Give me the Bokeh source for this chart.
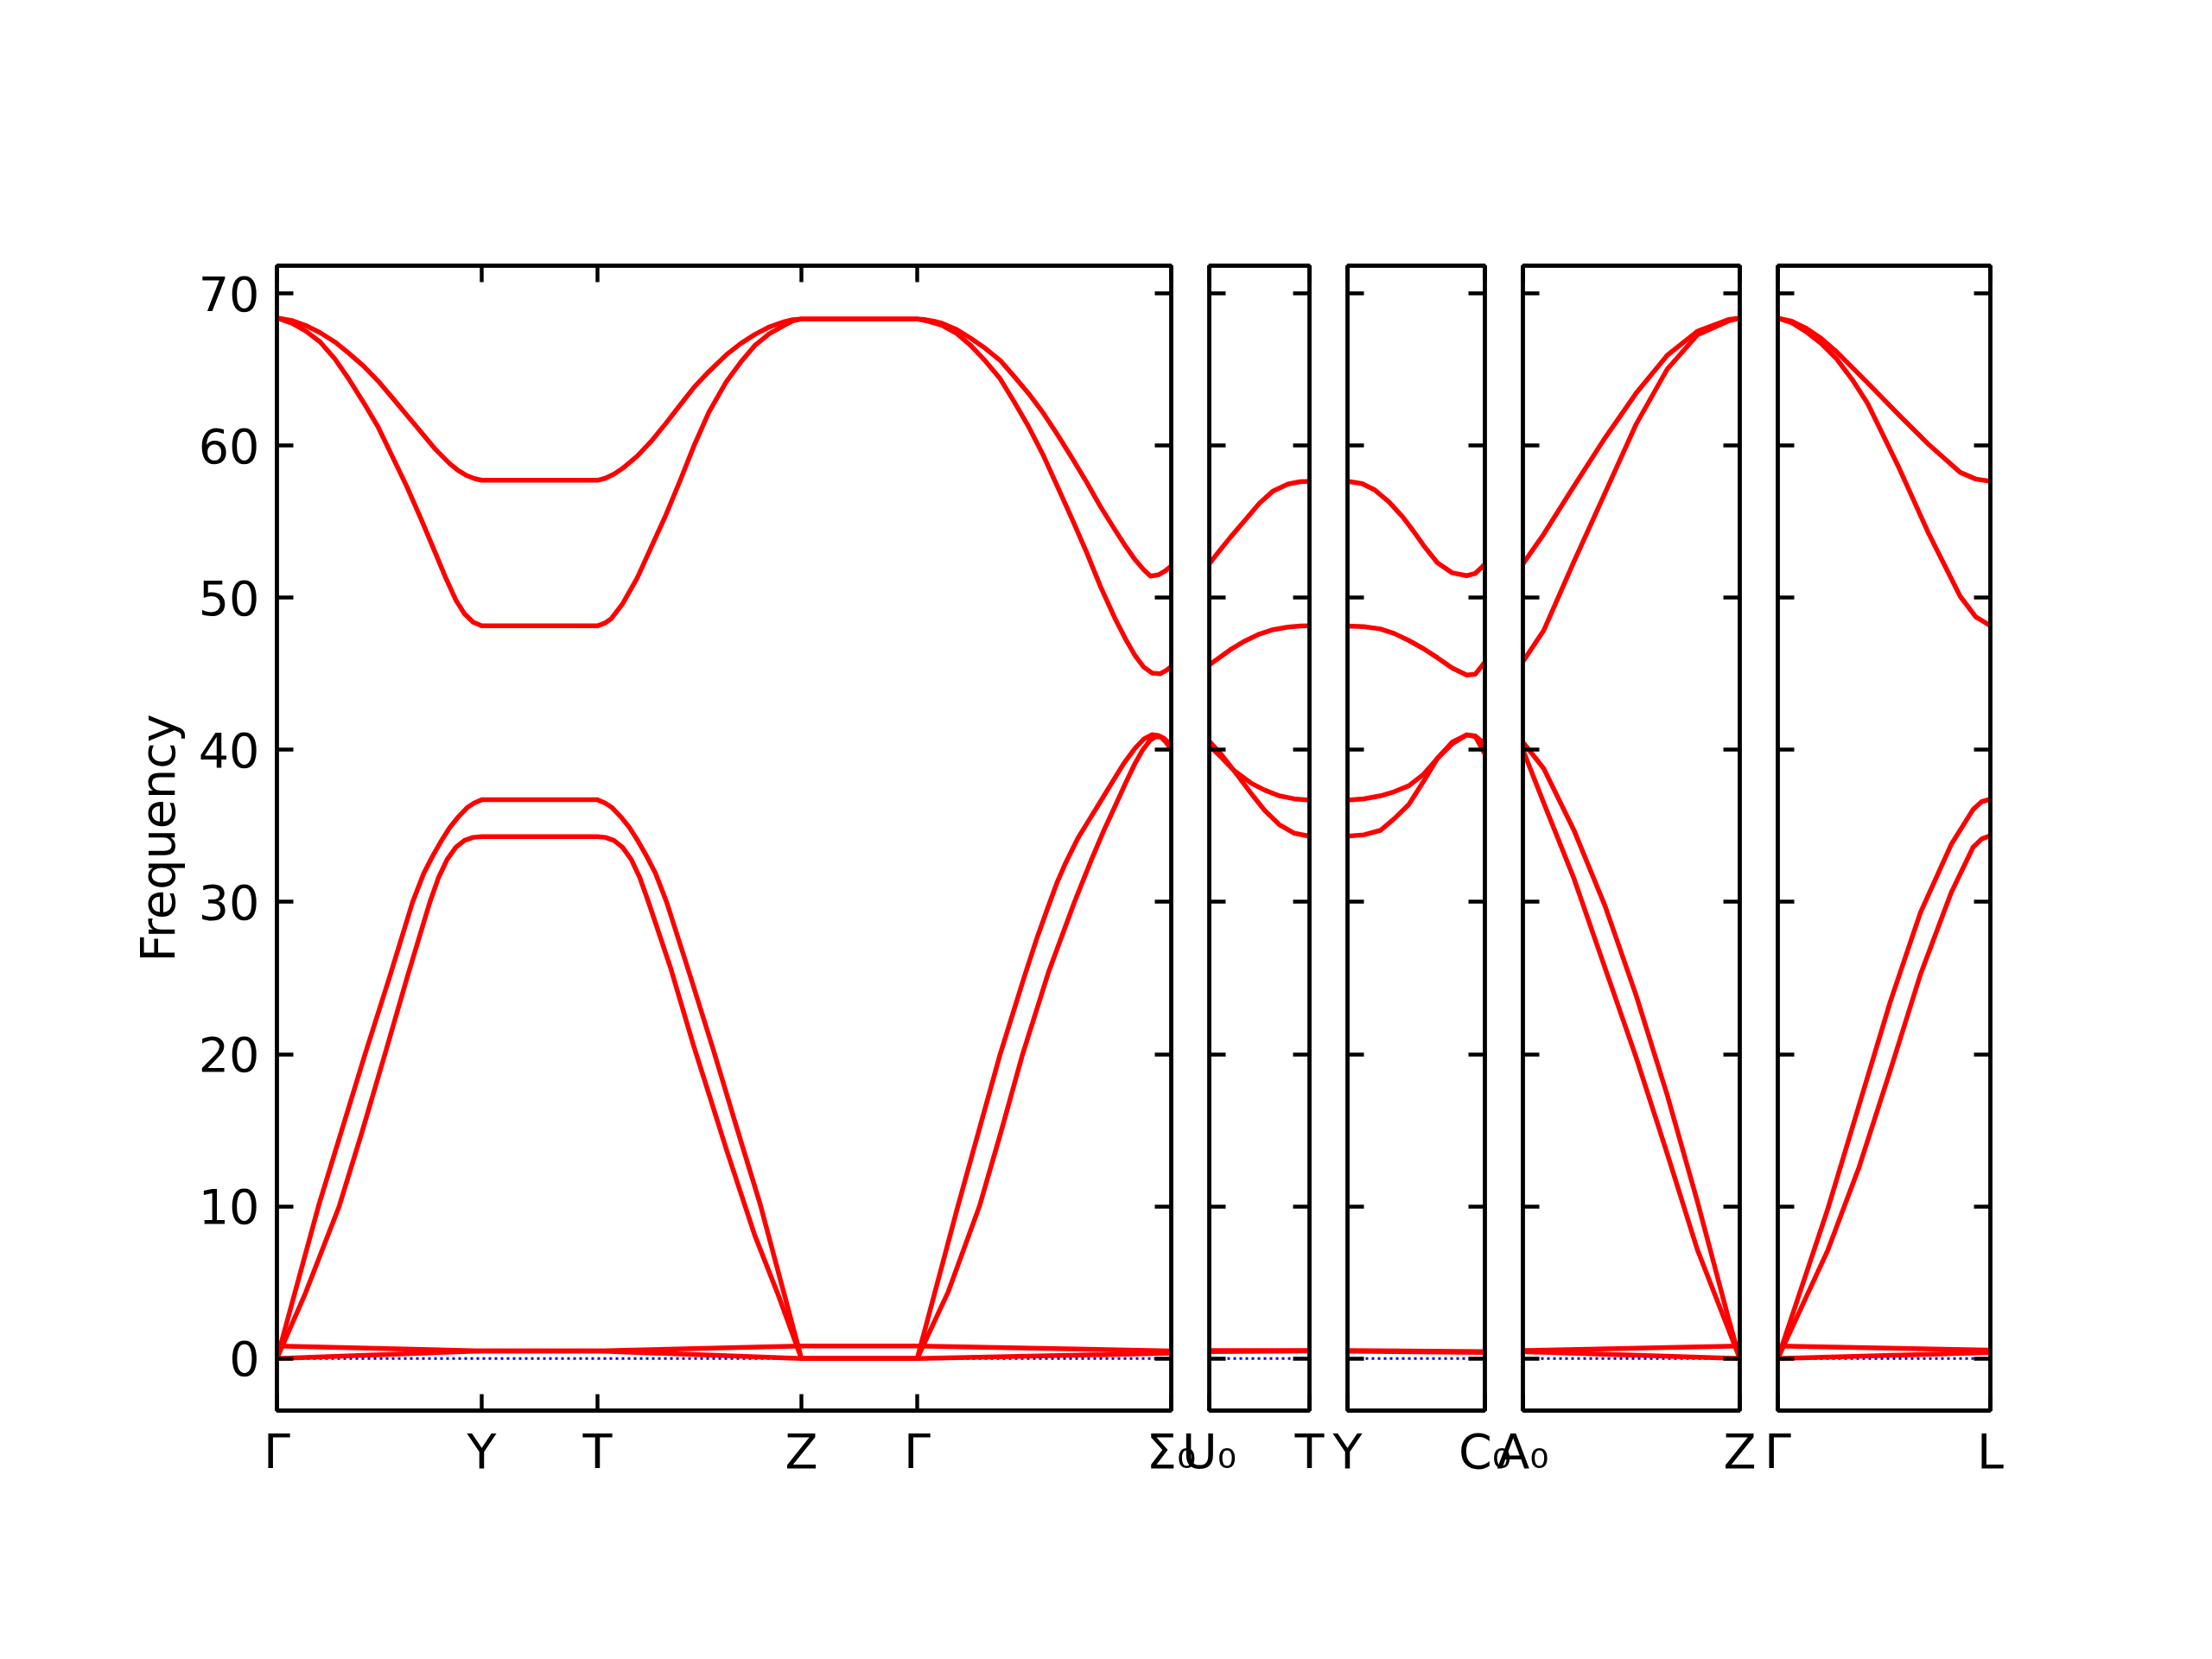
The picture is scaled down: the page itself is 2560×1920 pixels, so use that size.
from bokeh.plotting import figure
from bokeh.models import Range1d, FixedTicker, LinearAxis, Span
from bokeh.layouts import row
from bokeh.embed import file_html
from bokeh.resources import INLINE

# ---------------- data ----------------
FREQ_MIN, FREQ_MAX = -3.42, 71.82
FREQ_TICKS = [0, 10, 20, 30, 40, 50, 60, 70]

# Panel 1: Γ-Y-T-Z-Γ-Σ0
P1_TICKS = [0.0, 0.237, 0.371, 0.607, 0.741, 1.035]
P1_LABELS = ["Γ", "Y", "T", "Z", "Γ", "Σ₀"]
P1_A_X = [0.0, 0.017, 0.033, 0.050, 0.067, 0.083, 0.100, 0.117, 0.133, 0.150, 0.167, 0.183, 0.200, 0.210,
          0.220, 0.229, 0.237,
          0.371, 0.380, 0.390, 0.400, 0.417, 0.433, 0.450, 0.467, 0.483, 0.500, 0.520, 0.537, 0.553, 0.570,
          0.587, 0.597, 0.607,
          0.741, 0.750, 0.760, 0.770, 0.787, 0.803, 0.820, 0.837, 0.853, 0.870, 0.887, 0.903, 0.920, 0.937,
          0.953, 0.970, 0.982, 0.993, 1.003, 1.011, 1.020, 1.027, 1.035]
P1_A = [68.39, 68.22, 67.90, 67.42, 66.81, 66.08, 65.24, 64.25, 63.18, 62.03, 60.87, 59.78, 58.81, 58.35,
        58.02, 57.82, 57.72,
        57.72, 57.85, 58.12, 58.50, 59.30, 60.27, 61.45, 62.69, 63.85, 64.87, 65.96, 66.72, 67.30, 67.80,
        68.14, 68.27, 68.32,
        68.32, 68.28, 68.18, 68.03, 67.62, 67.05, 66.38, 65.60, 64.56, 63.42, 62.13, 60.75, 59.20, 57.60,
        56.00, 54.45, 53.40, 52.51, 51.85, 51.42, 51.50, 51.72, 52.08]
P1_B_X = [0.0, 0.017, 0.033, 0.050, 0.067, 0.083, 0.100, 0.117, 0.133, 0.150, 0.167, 0.183, 0.195, 0.207,
          0.217, 0.227, 0.237,
          0.371, 0.380, 0.387, 0.400, 0.417, 0.433, 0.450, 0.467, 0.483, 0.500, 0.520, 0.537, 0.553, 0.570,
          0.587, 0.597, 0.607,
          0.741, 0.755, 0.770, 0.787, 0.803, 0.820, 0.837, 0.853, 0.870, 0.887, 0.903, 0.920, 0.937, 0.953,
          0.970, 0.982, 0.993, 1.003, 1.013, 1.022, 1.030, 1.035]
P1_B = [68.39, 68.05, 67.54, 66.81, 65.70, 64.39, 62.85, 61.23, 59.35, 57.35, 55.15, 52.99, 51.35, 49.85,
        48.95, 48.40, 48.15,
        48.15, 48.35, 48.63, 49.60, 51.30, 53.30, 55.42, 57.75, 60.03, 62.20, 64.19, 65.50, 66.57, 67.35,
        67.90, 68.20, 68.32,
        68.32, 68.15, 67.90, 67.35, 66.57, 65.55, 64.39, 62.90, 61.23, 59.35, 57.35, 55.20, 52.99, 50.75,
        48.63, 47.30, 46.21, 45.45, 45.04, 45.00, 45.25, 45.48]
P1_C_X = [0.0, 0.048, 0.102, 0.130, 0.157, 0.170, 0.180, 0.190, 0.200, 0.210, 0.220, 0.228, 0.237,
          0.371, 0.380, 0.388, 0.398, 0.408, 0.418, 0.428, 0.438, 0.451, 0.478, 0.505, 0.532, 0.559, 0.583,
          0.607,
          0.741, 0.788, 0.837, 0.865, 0.880, 0.892, 0.903, 0.913, 0.927, 0.940, 0.953, 0.968, 0.980, 0.993,
          1.003, 1.013, 1.020, 1.027, 1.035]
P1_C = [0.0, 10.0, 20.0, 25.0, 30.0, 31.9, 33.0, 34.0, 34.9, 35.6, 36.2, 36.5, 36.72,
        36.72, 36.5, 36.2, 35.6, 34.9, 34.0, 33.0, 31.9, 30.0, 25.2, 20.3, 15.2, 10.2, 5.1,
        0.0,
        0.0, 10.0, 20.0, 25.1, 27.7, 29.6, 31.3, 32.6, 34.2, 35.4, 36.6, 38.0, 39.1, 40.1,
        40.7, 41.0, 40.95, 40.75, 40.3]
P1_D_X = [0.0, 0.033, 0.072, 0.098, 0.125, 0.151, 0.177, 0.187, 0.197, 0.207, 0.217, 0.227, 0.237,
          0.371, 0.380, 0.390, 0.400, 0.410, 0.420, 0.430, 0.456, 0.482, 0.501, 0.520, 0.553, 0.580, 0.607,
          0.741, 0.777, 0.813, 0.838, 0.863, 0.893, 0.923, 0.942, 0.957, 0.970, 0.982, 0.993, 1.002, 1.010,
          1.017, 1.023, 1.029, 1.035]
P1_D = [0.0, 4.3, 10.0, 14.8, 20.0, 25.1, 30.0, 31.6, 32.8, 33.6, 34.05, 34.25, 34.3,
        34.3, 34.25, 34.05, 33.6, 32.8, 31.6, 30.0, 25.6, 20.6, 17.2, 13.77, 8.1, 4.2, 0.0,
        0.0, 4.4, 10.0, 14.9, 20.0, 25.4, 30.0, 32.7, 34.7, 36.3, 37.8, 39.1, 40.0, 40.6,
        40.87, 40.85, 40.5, 40.03]
P1_E_X = [0.0, 0.237, 0.371, 0.607, 0.741, 1.035]
P1_E = [0.83, 0.50, 0.50, 0.83, 0.83, 0.50]
P1_F_X = [0.0, 0.237, 0.371, 0.607, 0.741, 1.035]
P1_F = [0.0, 0.50, 0.50, 0.0, 0.0, 0.35]

# Panel 2: U0-T
P2_TICKS = [1.035, 1.151]
P2_LABELS = ["U₀", "T"]
P2_A_X = [1.035, 1.047, 1.059, 1.076, 1.093, 1.109, 1.126, 1.140, 1.151]
P2_A = [52.22, 53.10, 53.94, 55.07, 56.20, 57.02, 57.47, 57.62, 57.65]
P2_B_X = [1.035, 1.059, 1.076, 1.093, 1.109, 1.126, 1.140, 1.151]
P2_B = [45.58, 46.57, 47.15, 47.61, 47.90, 48.07, 48.14, 48.16]
P2_CD_X = [1.035, 1.049, 1.063, 1.083, 1.099, 1.116, 1.133, 1.151]
P2_C = [40.29, 39.50, 38.68, 37.83, 37.36, 36.98, 36.79, 36.70]
P2_D = [40.57, 39.70, 38.68, 37.17, 36.03, 35.09, 34.53, 34.33]
P2_EF_X = [1.035, 1.151]
P2_E = [0.52, 0.52]
P2_F = [0.45, 0.50]

# Panel 3: Y-C0
P3_TICKS = [1.151, 1.310]
P3_LABELS = ["Y", "C₀"]
P3_A_X = [1.151, 1.168, 1.182, 1.199, 1.215, 1.227, 1.239, 1.255, 1.272, 1.289, 1.299, 1.310]
P3_A = [57.65, 57.50, 57.10, 56.30, 55.30, 54.40, 53.44, 52.30, 51.64, 51.45, 51.60, 52.20]
P3_B_X = [1.151, 1.170, 1.189, 1.205, 1.222, 1.239, 1.255, 1.272, 1.289, 1.299, 1.310]
P3_B = [48.14, 48.10, 47.95, 47.65, 47.19, 46.65, 46.06, 45.39, 44.92, 44.98, 45.77]
P3_C_X = [1.151, 1.170, 1.189, 1.205, 1.222, 1.239, 1.255, 1.272, 1.289, 1.299, 1.310]
P3_C = [36.70, 36.78, 36.98, 37.25, 37.64, 38.40, 39.44, 40.39, 40.99, 40.91, 40.39]
P3_D_X = [1.151, 1.170, 1.189, 1.205, 1.222, 1.239, 1.255, 1.272, 1.289, 1.299, 1.310]
P3_D = [34.33, 34.42, 34.71, 35.47, 36.41, 37.93, 39.44, 40.50, 40.99, 40.87, 39.72]
P3_EF_X = [1.151, 1.310]
P3_E = [0.52, 0.45]
P3_F = [0.48, 0.40]

# Panel 4: A0-Z
P4_TICKS = [1.310, 1.561]
P4_LABELS = ["A₀", "Z"]
P4_X = [1.310, 1.334, 1.369, 1.405, 1.441, 1.477, 1.512, 1.548, 1.561]
P4_A = [52.22, 54.17, 57.33, 60.50, 63.44, 65.93, 67.51, 68.28, 68.37]
P4_B = [45.80, 47.84, 52.36, 56.88, 61.40, 65.02, 67.28, 68.19, 68.37]
P4_C = [40.50, 38.79, 34.73, 29.75, 23.87, 17.32, 10.31, 2.62, 0.0]
P4_D = [40.00, 36.53, 31.56, 25.68, 19.80, 13.47, 7.14, 1.90, 0.0]
P4_EF_X = [1.310, 1.561]
P4_E = [0.52, 0.83]
P4_F = [0.45, 0.0]

# Panel 5: Γ-L
P5_TICKS = [1.561, 1.807]
P5_LABELS = ["Γ", "L"]
P5_A_X = [1.561, 1.577, 1.593, 1.611, 1.629, 1.665, 1.700, 1.736, 1.772, 1.790, 1.807]
P5_A = [68.37, 68.18, 67.74, 67.05, 66.16, 64.12, 62.08, 60.05, 58.24, 57.80, 57.65]
P5_B_X = [1.561, 1.577, 1.593, 1.611, 1.629, 1.647, 1.665, 1.700, 1.736, 1.772, 1.790, 1.807]
P5_B = [68.37, 68.08, 67.51, 66.72, 65.70, 64.35, 62.76, 58.69, 54.17, 50.10, 48.74, 48.16]
P5_CD_X = [1.561, 1.619, 1.655, 1.691, 1.726, 1.762, 1.787, 1.797, 1.807]
P5_C = [0.0, 9.86, 16.64, 23.42, 29.30, 33.82, 36.08, 36.60, 36.76]
P5_D = [0.0, 7.14, 12.57, 18.90, 25.23, 30.66, 33.60, 34.15, 34.36]
P5_EF_X = [1.561, 1.807]
P5_E = [0.83, 0.55]
P5_F = [0.0, 0.40]

PANELS = [
    (P1_TICKS, P1_LABELS, [(P1_A_X, P1_A), (P1_B_X, P1_B), (P1_C_X, P1_C), (P1_D_X, P1_D),
                           (P1_E_X, P1_E), (P1_F_X, P1_F)]),
    (P2_TICKS, P2_LABELS, [(P2_A_X, P2_A), (P2_B_X, P2_B), (P2_CD_X, P2_C), (P2_CD_X, P2_D),
                           (P2_EF_X, P2_E), (P2_EF_X, P2_F)]),
    (P3_TICKS, P3_LABELS, [(P3_A_X, P3_A), (P3_B_X, P3_B), (P3_C_X, P3_C), (P3_D_X, P3_D),
                           (P3_EF_X, P3_E), (P3_EF_X, P3_F)]),
    (P4_TICKS, P4_LABELS, [(P4_X, P4_A), (P4_X, P4_B), (P4_X, P4_C), (P4_X, P4_D),
                           (P4_EF_X, P4_E), (P4_EF_X, P4_F)]),
    (P5_TICKS, P5_LABELS, [(P5_A_X, P5_A), (P5_B_X, P5_B), (P5_CD_X, P5_C), (P5_CD_X, P5_D),
                           (P5_EF_X, P5_E), (P5_EF_X, P5_F)]),
]

# ---------------- style / layout ----------------
FONT = "DejaVu Sans"
FS = "55.6px"
FRAME_H = 1325
PX_PER_UNIT = 1000
BORDER = 70
GAP = 44
FIRST_LEFT = 320
TOP = 307
LW_AX = 4.4
TICK_LEN = 19


def style_axis(ax, show_labels):
    ax.axis_line_color = "black"
    ax.axis_line_width = LW_AX
    ax.major_tick_in = TICK_LEN
    ax.major_tick_out = 0
    ax.major_tick_line_width = LW_AX
    ax.major_tick_line_color = "black"
    ax.minor_tick_line_color = None
    ax.minor_tick_in = 0
    ax.minor_tick_out = 0
    if show_labels:
        ax.major_label_text_font = FONT
        ax.major_label_text_font_size = FS
        ax.major_label_text_color = "black"
        ax.major_label_standoff = 16
    else:
        ax.major_label_text_font_size = "0px"
        ax.major_label_text_color = None
        ax.major_label_standoff = 0


figs = []
for i, (ticks, labels, bands) in enumerate(PANELS):
    fw = int(round((ticks[-1] - ticks[0]) * PX_PER_UNIT))
    p = figure(
        frame_width=fw, frame_height=FRAME_H,
        x_range=Range1d(ticks[0], ticks[-1]), y_range=Range1d(FREQ_MIN, FREQ_MAX),
        output_backend="svg", toolbar_location=None,
        min_border_left=FIRST_LEFT if i == 0 else BORDER,
        min_border_right=BORDER, min_border_top=TOP, min_border_bottom=200,
        background_fill_color=None, border_fill_color=None,
        outline_line_color="black", outline_line_width=LW_AX,
    )
    if i > 0:
        p.margin = (0, 0, 0, -(2 * BORDER - GAP))
    p.grid.visible = False

    # x axis below (labels) and above (ticks only)
    xb = p.xaxis[0]
    xb.ticker = FixedTicker(ticks=ticks)
    xb.major_label_overrides = {t: lab for t, lab in zip(ticks, labels)}
    style_axis(xb, True)
    xb.major_label_standoff = 14
    xa = LinearAxis(ticker=FixedTicker(ticks=ticks))
    style_axis(xa, False)
    p.add_layout(xa, "above")

    # y axis left and right
    yl = p.yaxis[0]
    yl.ticker = FixedTicker(ticks=FREQ_TICKS)
    style_axis(yl, i == 0)
    if i == 0:
        yl.major_label_standoff = 20
        yl.axis_label = "Frequency"
        yl.axis_label_text_font = FONT
        yl.axis_label_text_font_size = FS
        yl.axis_label_text_font_style = "normal"
        yl.axis_label_text_color = "black"
        yl.axis_label_standoff = 12
    yr = LinearAxis(ticker=FixedTicker(ticks=FREQ_TICKS))
    style_axis(yr, False)
    p.add_layout(yr, "right")

    p.add_layout(Span(location=0, dimension="width", line_color="blue", line_width=2.8,
                      line_dash="3 4", level="underlay"))

    for xs, ys in bands:
        p.line(xs, ys, line_color="#ff0000", line_width=5.5, line_join="round")
    figs.append(p)

layout = row(*figs)
open("out.html", "w").write(file_html(layout, INLINE))
